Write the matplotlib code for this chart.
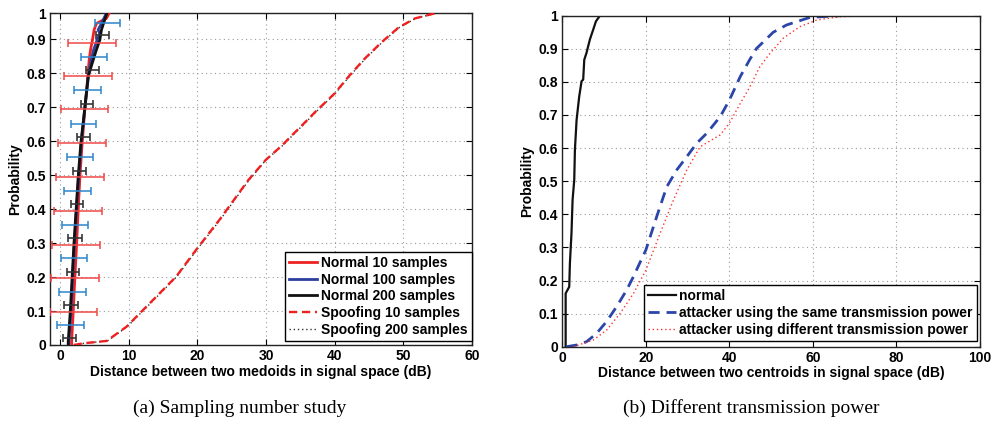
import matplotlib.pyplot as plt
import numpy as np

plt.rcParams['font.family'] = ['Liberation Sans', 'DejaVu Sans']
plt.rcParams['font.weight'] = 'bold'
plt.rcParams['font.size'] = 10

# ---- (a) sampling number study ----
n10_y = [0.0, 0.01, 0.098, 0.198, 0.296, 0.396, 0.494, 0.594, 0.694, 0.8, 0.839, 0.869, 0.898, 0.928, 0.947, 0.952, 0.962, 1.0]
n10_x = [1.7, 1.7, 1.93, 2.17, 2.42, 2.65, 2.9, 3.23, 3.62, 4.1, 4.25, 4.45, 4.73, 4.97, 5.3, 5.8, 6.77, 7.7]

n100_y = [0.0, 0.01, 0.098, 0.198, 0.296, 0.396, 0.494, 0.594, 0.694, 0.8, 0.839, 0.869, 0.898, 0.918, 0.928, 0.947, 1.0]
n100_x = [1.3, 1.3, 1.6, 1.85, 2.1, 2.4, 2.72, 3.1, 3.6, 4.2, 4.55, 4.9, 5.4, 5.8, 5.55, 6.04, 7.3]

n200_y = [0.0, 0.01, 0.098, 0.296, 0.494, 0.594, 0.694, 0.79, 0.8, 0.839, 0.869, 0.898, 0.928, 0.957, 1.0]
n200_x = [1.2, 1.2, 1.5, 2.03, 2.65, 3.04, 3.6, 4.1, 4.25, 4.83, 5.3, 5.8, 6.04, 6.5, 7.2]

sp10_x = [2.0, 3.4, 6.8, 9.7, 12.1, 14.5, 16.9, 20.0, 23.2, 27.4, 29.96, 32.4, 33.8, 35.3, 37.2, 40.0, 42.0, 44.4, 46.9, 49.3, 51.7, 54.8, 56.0]
sp10_y = [0.0, 0.005, 0.012, 0.054, 0.103, 0.152, 0.201, 0.285, 0.368, 0.485, 0.545, 0.589, 0.618, 0.648, 0.687, 0.741, 0.79, 0.844, 0.893, 0.935, 0.962, 0.978, 1.0]
sp200_x = [2.1, 3.5, 6.9, 9.8, 12.2, 14.6, 17.0, 20.1, 23.3, 27.5, 30.0, 32.5, 33.9, 35.4, 37.3, 40.1, 42.1, 44.5, 47.0, 49.4, 51.8, 54.9, 56.1]
sp200_y = sp10_y

# error bars: (center, half width) at each probability level
eb10_y = [0.098, 0.198, 0.296, 0.396, 0.494, 0.594, 0.694, 0.792, 0.89]
eb10_x = [1.98, 2.17, 2.4, 2.63, 2.92, 3.21, 3.57, 4.11, 4.7]
eb10_e = [3.45, 3.48, 3.5, 3.47, 3.5, 3.46, 3.48, 3.49, 3.5]

eb100_y = [0.059, 0.155, 0.255, 0.353, 0.454, 0.553, 0.651, 0.751, 0.849, 0.949]
eb100_x = [1.55, 1.83, 2.03, 2.17, 2.56, 2.9, 3.43, 4.05, 4.97, 6.93]
eb100_e = [1.93, 1.93, 1.93, 1.93, 1.93, 1.93, 1.88, 1.98, 1.93, 1.86]

eb200_y = [0.02, 0.118, 0.216, 0.316, 0.415, 0.513, 0.612, 0.71, 0.81, 0.912]
eb200_x = [1.35, 1.59, 1.88, 2.17, 2.49, 2.85, 3.42, 3.94, 4.78, 6.22]
eb200_e = [0.93, 0.97, 0.92, 0.97, 0.89, 0.92, 0.92, 0.9, 0.92, 0.93]

# ---- (b) different transmission power ----
nrm_x = [0.8, 0.8, 1.66, 1.82, 2.2, 2.46, 2.86, 3.02, 3.42, 4.05, 4.61, 5.0, 5.26, 5.8, 6.6, 7.4, 8.05, 9.0]
nrm_y = [0.0, 0.161, 0.181, 0.252, 0.343, 0.443, 0.504, 0.595, 0.685, 0.756, 0.802, 0.807, 0.867, 0.888, 0.928, 0.958, 0.983, 1.0]

same_x = [1.0, 3.4, 5.8, 8.2, 10.6, 13.0, 15.4, 17.0, 20.0, 22.6, 25.0, 27.4, 29.8, 32.2, 34.6, 37.8, 40.0, 42.6, 44.9, 46.5, 50.5, 53.7, 59.3, 66.5]
same_y = [0.0, 0.005, 0.015, 0.04, 0.076, 0.121, 0.171, 0.211, 0.292, 0.393, 0.483, 0.534, 0.574, 0.615, 0.645, 0.695, 0.745, 0.816, 0.868, 0.901, 0.95, 0.972, 0.995, 1.0]

diff_x = [2.6, 7.4, 10.6, 13.8, 17.0, 20.0, 23.4, 26.6, 29.8, 33.0, 37.8, 40.0, 42.6, 44.9, 47.3, 49.7, 52.9, 56.9, 60.9, 66.5, 74.4]
diff_y = [0.0, 0.02, 0.05, 0.1, 0.16, 0.231, 0.342, 0.443, 0.534, 0.604, 0.64, 0.675, 0.735, 0.785, 0.846, 0.886, 0.932, 0.967, 0.987, 0.997, 1.0]

W, H = 995, 422
fig = plt.figure(figsize=(W / 100, H / 100), dpi=100)

ax1 = fig.add_axes([50 / W, (H - 345) / H, 422 / W, 331.7 / H])
ax2 = fig.add_axes([562.3 / W, (H - 346.7) / H, 417.7 / W, 331 / H])


def style(ax):
    ax.grid(True, linestyle=(0, (1, 3)), color='#9a9a9a', linewidth=0.8)
    ax.tick_params(direction='in', top=True, right=True, length=4, width=0.8, pad=3, labelsize=10)
    for s in ax.spines.values():
        s.set_linewidth(1.0)
        s.set_color('#222222')
    for lbl in ax.get_xticklabels() + ax.get_yticklabels():
        lbl.set_fontweight('bold')


# left panel
ax1.plot(n10_x, n10_y, color='#ee2222', lw=2.0, label='Normal 10 samples', zorder=4)
ax1.plot(n100_x, n100_y, color='#2b3f9e', lw=2.0, label='Normal 100 samples', zorder=4)
ax1.plot(n200_x, n200_y, color='#111111', lw=2.0, label='Normal 200 samples', zorder=4)
ax1.plot(sp10_x, sp10_y, color='#f02020', lw=1.7, ls=(0, (3.5, 2)), label='Spoofing 10 samples', zorder=3.5)
ax1.plot(sp200_x, sp200_y, color='#333333', lw=1.0, ls=(0, (1, 2)), label='Spoofing 200 samples', zorder=3)

ax1.errorbar(eb10_x, eb10_y, xerr=eb10_e, fmt='none', ecolor='#f04848', elinewidth=1.3,
             capsize=3, capthick=1.3, alpha=0.85, zorder=5)
ax1.errorbar(eb100_x, eb100_y, xerr=eb100_e, fmt='none', ecolor='#2f86cc', elinewidth=1.3,
             capsize=3, capthick=1.3, alpha=0.85, zorder=5)
ax1.errorbar(eb200_x, eb200_y, xerr=eb200_e, fmt='none', ecolor='#333333', elinewidth=1.3,
             capsize=3, capthick=1.3, alpha=0.9, zorder=5)

ytop = 0.977
ax1.set_xlim(-1.45, 60)
ax1.set_ylim(0, ytop)
ax1.set_xticks([0, 10, 20, 30, 40, 50, 60])
ax1.set_yticks([0, 0.1, 0.2, 0.3, 0.4, 0.5, 0.6, 0.7, 0.8, 0.9, ytop])
ax1.set_yticklabels(['0', '0.1', '0.2', '0.3', '0.4', '0.5', '0.6', '0.7', '0.8', '0.9', '1'])
ax1.set_xlabel('Distance between two medoids in signal space (dB)', fontweight='bold', labelpad=1)
ax1.set_ylabel('Probability', fontweight='bold', labelpad=3)
style(ax1)
leg1 = ax1.legend(loc='lower right', bbox_to_anchor=(1.0, 0.012), borderaxespad=0, fancybox=False,
                  edgecolor='black', framealpha=1, handlelength=2.0, handletextpad=0.3,
                  labelspacing=0.2, borderpad=0.3, prop={'weight': 'bold', 'size': 10})
leg1.get_frame().set_linewidth(1.0)

# right panel
ax2.plot(nrm_x, nrm_y, color='#111111', lw=1.6, label='normal')
ax2.plot(same_x, same_y, color='#2b45a8', lw=2.0, ls=(0, (4, 2.5)), label='attacker using the same transmission power')
ax2.plot(diff_x, diff_y, color='#ff3030', lw=1.0, ls=(0, (1, 2)), label='attacker using different transmission power')
ax2.set_xlim(0, 100)
ax2.set_ylim(0, 1)
ax2.set_xticks([0, 20, 40, 60, 80, 100])
ax2.set_yticks([0, 0.1, 0.2, 0.3, 0.4, 0.5, 0.6, 0.7, 0.8, 0.9, 1])
ax2.set_yticklabels(['0', '0.1', '0.2', '0.3', '0.4', '0.5', '0.6', '0.7', '0.8', '0.9', '1'])
ax2.set_xlabel('Distance between two centroids in signal space (dB)', fontweight='bold', labelpad=1)
ax2.set_ylabel('Probability', fontweight='bold', labelpad=3)
style(ax2)
leg2 = ax2.legend(loc='lower right', bbox_to_anchor=(0.992, 0.018), borderaxespad=0, fancybox=False,
                  edgecolor='black', framealpha=1, handlelength=2.0, handletextpad=0.2,
                  labelspacing=0.2, borderpad=0.3, prop={'weight': 'bold', 'size': 10})
leg2.get_frame().set_linewidth(1.0)

# sub-captions
fig.text(240 / W, 1 - 408 / H, '(a) Sampling number study', ha='center', va='center',
         family=['Liberation Serif', 'DejaVu Serif'], fontweight='normal', fontsize=14)
fig.text(751 / W, 1 - 408 / H, '(b) Different transmission power', ha='center', va='center',
         family=['Liberation Serif', 'DejaVu Serif'], fontweight='normal', fontsize=14)

fig.savefig('out.png', dpi=100)
